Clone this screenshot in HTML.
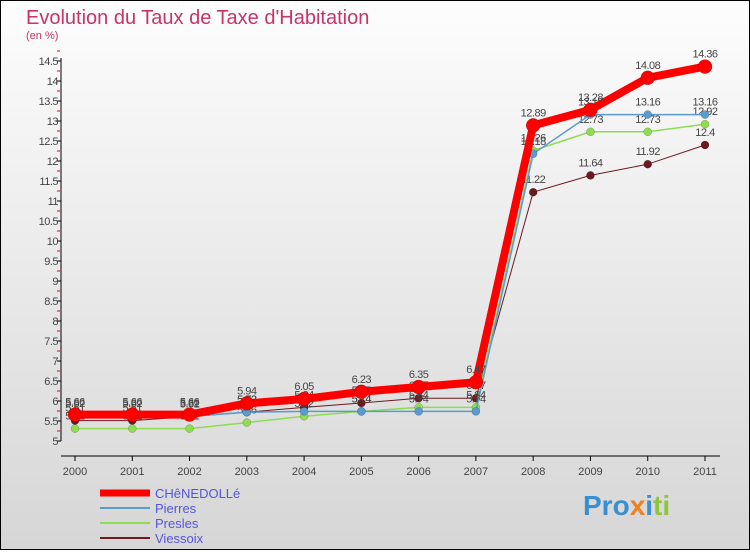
<!DOCTYPE html>
<html><head><meta charset="utf-8"><style>
body{margin:0;width:750px;height:550px;overflow:hidden;font-family:"Liberation Sans",sans-serif}
</style></head><body>
<svg id="c" width="750" height="550" xmlns="http://www.w3.org/2000/svg">
<defs><linearGradient id="bg" x1="0" y1="0" x2="0" y2="1"><stop offset="0" stop-color="#fdfdfd"/><stop offset="1" stop-color="#d6d6d6"/></linearGradient></defs>
<rect x="0.5" y="0.5" width="749" height="549" fill="url(#bg)" stroke="#000"/>
<text x="26" y="24" font-size="20" fill="#c8336a">Evolution du Taux de Taxe d'Habitation</text>
<text x="26" y="39" font-size="11" fill="#c8336a">(en %)</text>
<g id="axes"></g><g id="series"></g><g id="legend"></g>
<g font-size="28" font-weight="bold">
<text x="583" y="515"><tspan fill="#3a8fd0">Pro</tspan><tspan fill="#f08020">x</tspan><tspan fill="#3a8fd0">i</tspan><tspan fill="#8cc63f">ti</tspan></text>
</g>
</svg>
<script>
const years=[2000,2001,2002,2003,2004,2005,2006,2007,2008,2009,2010,2011];
const chenedolle=[5.66,5.66,5.66,5.94,6.05,6.23,6.35,6.47,12.89,13.28,14.08,14.36];
const pierres=[5.62,5.62,5.62,5.72,5.74,5.74,5.74,5.74,12.18,13.16,13.16,13.16];
const presles=[5.31,5.31,5.31,5.46,5.62,5.74,5.84,5.84,12.26,12.73,12.73,12.92];
const viessoix=[5.51,5.51,5.61,5.72,5.84,5.95,6.07,6.07,11.22,11.64,11.92,12.4];
const yTicks=[5,5.5,6,6.5,7,7.5,8,8.5,9,9.5,10,10.5,11,11.5,12,12.5,13,13.5,14,14.5];
const X=i=>75+i*(630/11);
const Y=v=>441-(v-5)*40;
const NS="http://www.w3.org/2000/svg";
function mk(p,t,a){const e=document.createElementNS(NS,t);for(const k in a)e.setAttribute(k,a[k]);p.appendChild(e);return e;}
const ax=document.getElementById('axes');
const ya=mk(ax,'line',{x1:61,y1:58,x2:61,y2:441,stroke:'#000'});


const xa=mk(ax,'line',{x1:61,y1:456,x2:720,y2:456,stroke:'#000'});


yTicks.forEach(v=>{
 mk(ax,'line',{x1:57,y1:Y(v),x2:61,y2:Y(v),stroke:'#000'});
 mk(ax,'line',{x1:57,y1:Y(v+0.25),x2:60,y2:Y(v+0.25),stroke:'#e00'});
 const t=mk(ax,'text',{x:58,y:Y(v)+4,'font-size':11,'text-anchor':'end',fill:'#444','letter-spacing':'-0.5'});
 t.textContent=v;
 
 
});
years.forEach((y,i)=>{
 mk(ax,'line',{x1:X(i),y1:456,x2:X(i),y2:461,stroke:'#000'});
 const t=mk(ax,'text',{x:X(i),y:475,'font-size':11,'text-anchor':'middle',fill:'#444'});
 t.textContent=y;
 
 
});
const sg=document.getElementById('series');
const defs=[
 {d:viessoix,c:'#6b1a20',w:1,r:4,n:'viessoix'},
 {d:presles,c:'#8fdc50',w:1.5,r:4,n:'presles'},
 {d:pierres,c:'#5a9bd0',w:1.5,r:4,n:'pierres'},
 {d:chenedolle,c:'#ff0000',w:8,r:7,n:'chenedolle'}];
defs.forEach(s=>{
 const g=mk(sg,'g',{});
 
 
 const l=mk(g,'polyline',{points:s.d.map((v,i)=>X(i)+','+Y(v)).join(' '),fill:'none',stroke:s.c,'stroke-width':s.w});
 
 
 s.d.forEach((v,i)=>{
  const p=mk(g,'circle',{cx:X(i),cy:Y(v),r:s.r,fill:s.c,stroke:'rgba(0,0,0,0.3)','stroke-width':0.5});
  
  
  const t=mk(g,'text',{x:X(i),y:Y(v)-9,'font-size':11,'text-anchor':'middle',fill:'#444','letter-spacing':'-0.5'});
  t.textContent=v;
  
  
 });
});
const lg=document.getElementById('legend');
[['CHêNEDOLLé','#ff0000',7],['Pierres','#5a9bd0',2],['Presles','#8fdc50',2],['Viessoix','#6b1a20',2]].forEach((e,i)=>{
 const y=493+i*15;
 const l=mk(lg,'line',{x1:100,y1:y,x2:150,y2:y,stroke:e[1],'stroke-width':e[2]});
 
 
 const t=mk(lg,'text',{x:155,y:y+5,'font-size':13,fill:'#5555dd'});
 t.textContent=e[0];
 
 
});
</script>
</body></html>
